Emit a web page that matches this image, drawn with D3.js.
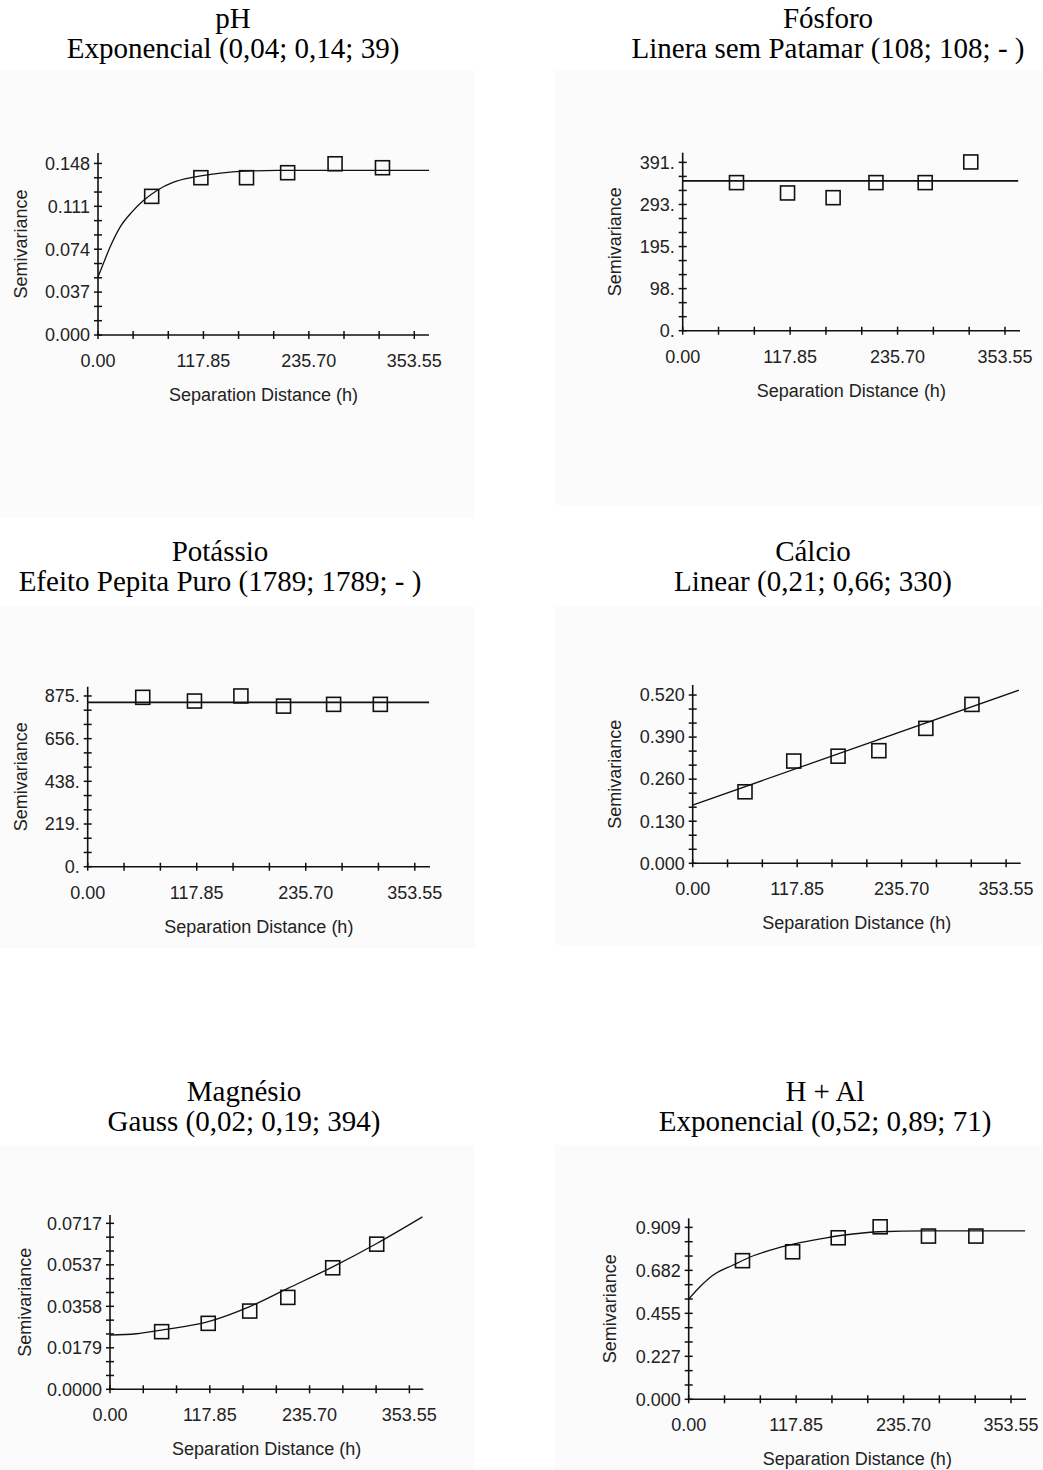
<!DOCTYPE html>
<html>
<head>
<meta charset="utf-8">
<script src="https://cdn.jsdelivr.net/npm/d3@7/dist/d3.min.js"></script>
<style>
  html, body { margin: 0; padding: 0; background: #ffffff; }
  svg { display: block; }
</style>
</head>
<body>
<svg id="chart" width="1043" height="1470"></svg>
<script>
// ---------------- DATA ----------------
const titleLine1 = ["pH", "Fósforo", "Potássio", "Cálcio", "Magnésio", "H + Al"];
const titleLine2 = [
  "Exponencial (0,04; 0,14; 39)",
  "Linera sem Patamar (108; 108; - )",
  "Efeito Pepita Puro (1789; 1789; - )",
  "Linear (0,21; 0,66; 330)",
  "Gauss (0,02; 0,19; 394)",
  "Exponencial (0,52; 0,89; 71)"
];
const xAxisTitle = "Separation Distance (h)";
const yAxisTitle = "Semivariance";
const xTickLabels = ["0.00", "117.85", "235.70", "353.55"];
const xTickValues = [0, 117.85, 235.70, 353.55];
const xAxisMax = 370;

// y tick labels per panel
const yTickLabels = [
  ["0.000", "0.037", "0.074", "0.111", "0.148"],
  ["0.", "98.", "195.", "293.", "391."],
  ["0.", "219.", "438.", "656.", "875."],
  ["0.000", "0.130", "0.260", "0.390", "0.520"],
  ["0.0000", "0.0179", "0.0358", "0.0537", "0.0717"],
  ["0.000", "0.227", "0.455", "0.682", "0.909"]
];
const yTopTick = [0.148, 391, 875, 0.520, 0.0717, 0.909];
const yAxisMax = [0.157, 413.5, 922.5, 0.551, 0.0753, 0.957];

// experimental semivariogram points (lag h, semivariance)
const lag_pH  = [60, 115, 166, 212, 265, 318];
const semi_pH = [0.1196, 0.1357, 0.1357, 0.1400, 0.1477, 0.1443];
const lag_P   = [59, 115, 165, 212, 266, 316];
const semi_P  = [344, 320, 309, 344, 344, 392];
const lag_K   = [59.5, 115.4, 165.6, 211.7, 265.8, 316.3];
const semi_K  = [868, 849, 875, 823, 832, 832];
const lag_Ca  = [59, 114, 164, 210, 263, 315];
const semi_Ca = [0.221, 0.316, 0.331, 0.348, 0.417, 0.491];
const lag_Mg  = [61, 116, 165, 210, 263, 315];
const semi_Mg = [0.0249, 0.0285, 0.0338, 0.0397, 0.0525, 0.0627];
const lag_HAl = [59, 114, 164, 210, 263, 315];
const semi_HAl= [0.733, 0.780, 0.854, 0.912, 0.863, 0.863];

// fitted model curves
const modelH_pH  = [0, 6, 13.5, 24.7, 37.8, 50.8, 65.9, 84.5, 107, 137, 163, 200, 370];
const modelV_pH  = [0.050, 0.0617, 0.0759, 0.0931, 0.106, 0.116, 0.1247, 0.1318, 0.1361, 0.1396, 0.1413, 0.142, 0.142];
const modelH_P   = [0, 368];
const modelV_P   = [348, 348];
const modelH_K   = [0, 369];
const modelV_K   = [842, 842];
const modelH_Ca  = [0, 368];
const modelV_Ca  = [0.180, 0.535];
const modelH_Mg  = [0, 31, 61, 116, 165, 210, 263, 315, 369];
const modelV_Mg  = [0.0234, 0.0240, 0.0256, 0.0292, 0.0357, 0.0436, 0.0529, 0.0630, 0.0745];
const modelH_HAl = [0, 12.4, 26.9, 48.8, 70.9, 96.3, 122, 151, 180, 209, 260, 369];
const modelV_HAl = [0.530, 0.595, 0.657, 0.710, 0.759, 0.798, 0.828, 0.854, 0.874, 0.886, 0.891, 0.891];

const lagSets   = [lag_pH, lag_P, lag_K, lag_Ca, lag_Mg, lag_HAl];
const semiSets  = [semi_pH, semi_P, semi_K, semi_Ca, semi_Mg, semi_HAl];
const modelHSets = [modelH_pH, modelH_P, modelH_K, modelH_Ca, modelH_Mg, modelH_HAl];
const modelVSets = [modelV_pH, modelV_P, modelV_K, modelV_Ca, modelV_Mg, modelV_HAl];
const curvedModel = [true, false, false, false, true, true];

// ---------------- LAYOUT ----------------
const layout = [
  {x0: 98,    xEnd: 429,    y0: 335,    yTop: 153,    ylabX: 21,  tx: 233, ty: 28,    bg: [0, 70, 475, 448]},
  {x0: 682.7, xEnd: 1020,   y0: 330.7,  yTop: 152.7,  ylabX: 615, tx: 828, ty: 28,    bg: [555, 70, 488, 435]},
  {x0: 87.7,  xEnd: 430,    y0: 866.7,  yTop: 686.7,  ylabX: 21,  tx: 220, ty: 561,   bg: [0, 606, 475, 342]},
  {x0: 692.7, xEnd: 1020.7, y0: 863.3,  yTop: 685,    ylabX: 615, tx: 813, ty: 561,   bg: [555, 606, 488, 339]},
  {x0: 110,   xEnd: 423.3,  y0: 1389.3, yTop: 1215,   ylabX: 25,  tx: 244, ty: 1101,  bg: [0, 1145, 475, 325]},
  {x0: 688.7, xEnd: 1026,   y0: 1399.3, yTop: 1218.3, ylabX: 610, tx: 825, ty: 1101,  bg: [555, 1145, 488, 325]}
];

const svg = d3.select("#chart");
const sans = "'Liberation Sans', Arial, sans-serif";
const serif = "'Liberation Serif', 'Times New Roman', serif";
const ink = "#111";

layout.forEach((L, i) => {
  const g = svg.append("g");

  // faint chart image background
  g.append("rect")
    .attr("x", L.bg[0]).attr("y", L.bg[1])
    .attr("width", L.bg[2]).attr("height", L.bg[3])
    .attr("fill", "#fbfbfb");

  // titles
  g.append("text").attr("x", L.tx).attr("y", L.ty)
    .attr("text-anchor", "middle").attr("font-family", serif)
    .attr("font-size", 29).attr("fill", "#000").text(titleLine1[i]);
  g.append("text").attr("x", L.tx).attr("y", L.ty + 30)
    .attr("text-anchor", "middle").attr("font-family", serif)
    .attr("font-size", 29).attr("fill", "#000").text(titleLine2[i]);

  const x = d3.scaleLinear().domain([0, xAxisMax]).range([L.x0, L.xEnd]);
  const y = d3.scaleLinear().domain([0, yAxisMax[i]]).range([L.y0, L.yTop]);

  // axes lines
  g.append("line").attr("x1", L.x0).attr("x2", L.xEnd).attr("y1", L.y0).attr("y2", L.y0)
    .attr("stroke", ink).attr("stroke-width", 1.6);
  g.append("line").attr("x1", L.x0).attr("x2", L.x0).attr("y1", L.y0).attr("y2", L.yTop)
    .attr("stroke", ink).attr("stroke-width", 1.6);

  // x ticks (minor every third of label step)
  const xStep = xTickValues[1] / 3;
  const xt = d3.range(0, 10).map(k => k * xStep);
  g.selectAll(".xt").data(xt).enter().append("line")
    .attr("x1", d => x(d)).attr("x2", d => x(d))
    .attr("y1", L.y0 - 4).attr("y2", L.y0 + 4)
    .attr("stroke", ink).attr("stroke-width", 1.5);
  g.selectAll(".xl").data(xTickValues).enter().append("text")
    .attr("x", d => x(d)).attr("y", L.y0 + 32)
    .attr("text-anchor", "middle").attr("font-family", sans)
    .attr("font-size", 18).attr("fill", "#222")
    .text((d, k) => xTickLabels[k]);

  // y ticks
  const yStep = yTopTick[i] / 4;
  const yt = d3.range(0, 13).map(k => k * yStep / 3);
  g.selectAll(".yt").data(yt).enter().append("line")
    .attr("x1", L.x0 - 4).attr("x2", L.x0 + 4)
    .attr("y1", d => y(d)).attr("y2", d => y(d))
    .attr("stroke", ink).attr("stroke-width", 1.5);
  const ymaj = d3.range(0, 5).map(k => k * yStep);
  g.selectAll(".yl").data(ymaj).enter().append("text")
    .attr("x", L.x0 - 8).attr("y", d => y(d))
    .attr("dy", "0.35em")
    .attr("text-anchor", "end").attr("font-family", sans)
    .attr("font-size", 18).attr("fill", "#222")
    .text((d, k) => yTickLabels[i][k]);

  // axis titles
  g.append("text")
    .attr("x", (L.x0 + L.xEnd) / 2).attr("y", L.y0 + 66)
    .attr("text-anchor", "middle").attr("font-family", sans)
    .attr("font-size", 18).attr("fill", "#222").text(xAxisTitle);
  const cy = (L.y0 + L.yTop) / 2;
  g.append("text")
    .attr("transform", `translate(${L.ylabX + 6},${cy}) rotate(-90)`)
    .attr("text-anchor", "middle").attr("font-family", sans)
    .attr("font-size", 18).attr("fill", "#222").text(yAxisTitle);

  // model line
  const mdata = modelHSets[i].map((h, k) => [h, modelVSets[i][k]]);
  const line = d3.line().x(d => x(d[0])).y(d => y(d[1]))
    .curve(curvedModel[i] ? d3.curveMonotoneX : d3.curveLinear);
  g.append("path").datum(mdata).attr("d", line)
    .attr("fill", "none").attr("stroke", ink)
    .attr("stroke-width", curvedModel[i] || i === 3 ? 1.3 : 1.6);

  // experimental points (hollow squares)
  const pts = lagSets[i].map((h, k) => [h, semiSets[i][k]]);
  const s = 14;
  g.selectAll(".pt").data(pts).enter().append("rect")
    .attr("x", d => x(d[0]) - s / 2).attr("y", d => y(d[1]) - s / 2)
    .attr("width", s).attr("height", s)
    .attr("fill", "none").attr("stroke", ink).attr("stroke-width", 1.6);
});
</script>
</body>
</html>
